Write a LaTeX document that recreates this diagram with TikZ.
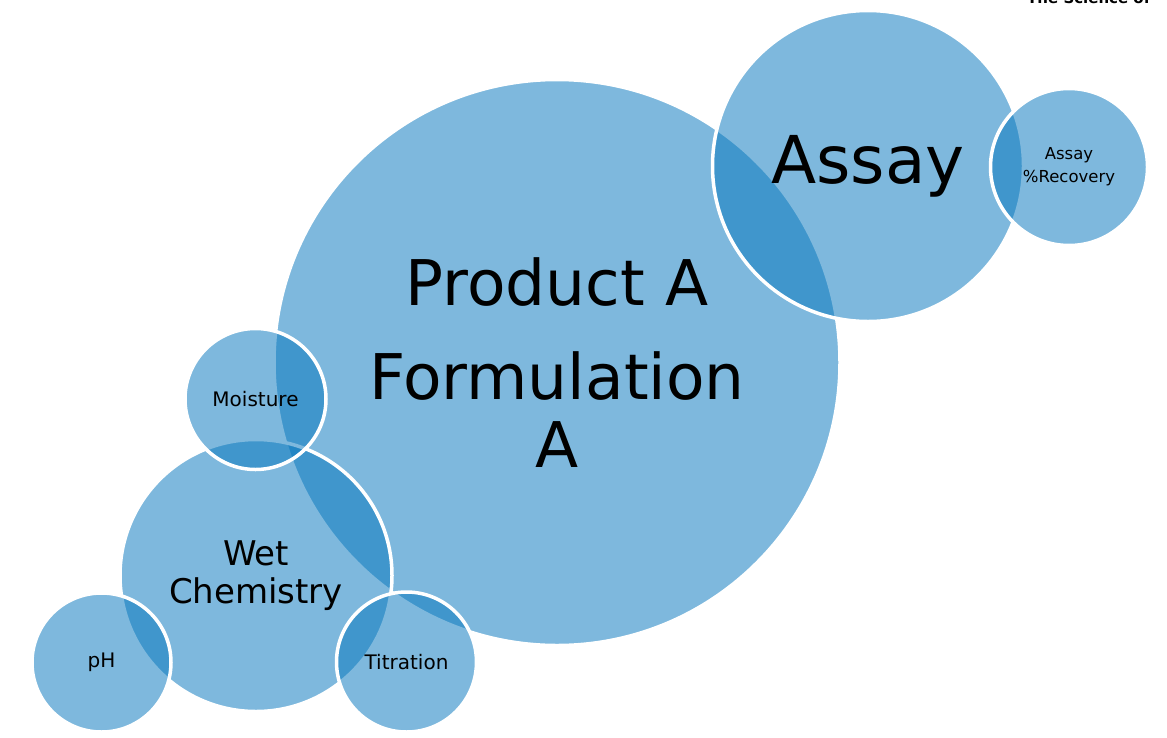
\documentclass[tikz,border=0pt]{standalone}
\usepackage{fontspec}
\setmainfont{DejaVu Sans}
\definecolor{bubble}{RGB}{9,120,190}
\tikzset{
  bubble/.style={circle, inner sep=0pt, fill=bubble, fill opacity=0.52,
    text opacity=1, draw=white, draw opacity=1, line width=3.5pt,
    text=black, align=center},
}
\begin{document}
\begin{tikzpicture}[x=1pt,y=-1pt]
\useasboundingbox (0,0) rectangle (1167,737);
\fill[white] (0,0) rectangle (1167,737);
\node[bubble, minimum size=566pt, font=\fontsize{63}{68}\selectfont] (prod) at (557,362.5)
  {Product A\\[26pt]Formulation\\A};
\node[bubble, minimum size=272pt, font=\fontsize{34}{38.5}\selectfont] (wet) at (256,575.5)
  {Wet\\Chemistry};
\node[bubble, minimum size=141pt, font=\fontsize{20}{24}\selectfont] (moist) at (255.5,399)
  {Moisture};
\node[bubble, minimum size=139pt, font=\fontsize{20}{24}\selectfont] (ph) at (101.5,662.5)
  {pH};
\node[bubble, minimum size=140pt, font=\fontsize{20}{24}\selectfont] (titr) at (406.5,662)
  {Titration};
\node[bubble, minimum size=311pt, font=\fontsize{66}{70}\selectfont] (assay) at (868,166)
  {Assay};
\node[bubble, minimum size=157pt, font=\fontsize{16.5}{23}\selectfont] (rec) at (1069,167)
  {Assay\\\%Recovery};
\node[anchor=base west, inner sep=0pt, font=\fontsize{15}{18}\selectfont\bfseries] (sci) at (1027,3.5)
  {The Science of};
\end{tikzpicture}
\end{document}
